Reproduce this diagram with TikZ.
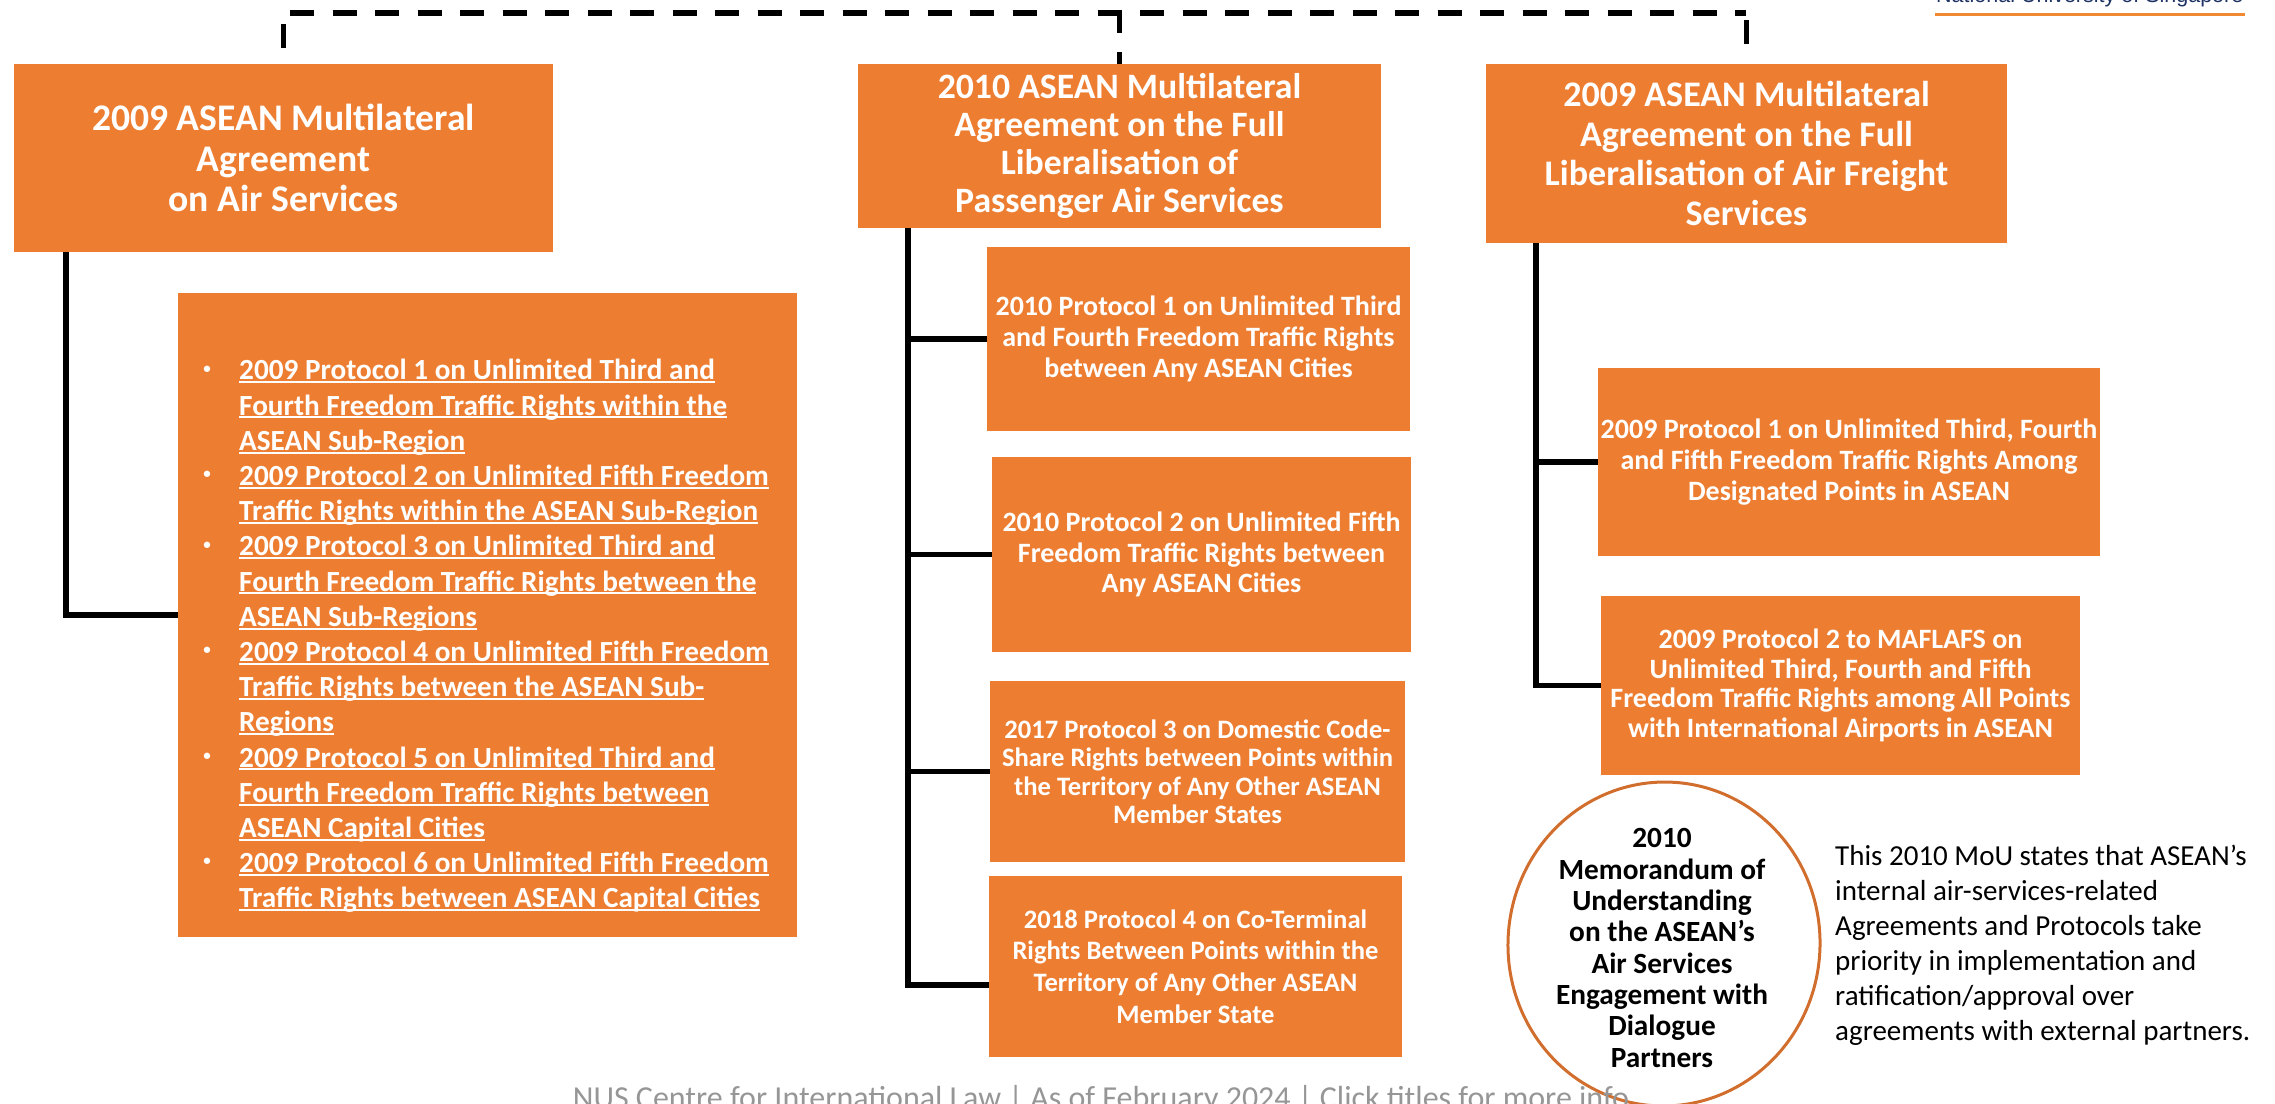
\documentclass[tikz,border=0pt]{standalone}
\usepackage{fontspec}
\setmainfont{Carlito}
\newfontfamily\logofont{Liberation Sans}
\usetikzlibrary{shapes.geometric}
\definecolor{org}{HTML}{ED7D31}
\definecolor{orgline}{RGB}{210,110,45}
\definecolor{orgbar}{RGB}{240,138,50}
\definecolor{footgray}{RGB}{150,150,150}
\definecolor{navy}{RGB}{30,50,100}
\newsavebox\ulbox
\newcommand\ulx[1]{\sbox\ulbox{#1}\rlap{\rule[-3.4pt]{\wd\ulbox}{2pt}}\usebox\ulbox}
\begin{document}
\begin{tikzpicture}[x=1pt,y=-1pt,
  box/.style={fill=org, draw=none, text=white, align=center, inner sep=0pt},
  fs/.style 2 args={font=\bfseries\fontsize{#1}{#2}\selectfont},
  conn/.style={line width=5.5pt, draw=black},
  bus/.style={line width=5.5pt, draw=black, dash pattern=on 24pt off 18.5pt},
  stub/.style={line width=5.5pt, draw=black},
  listline/.style={anchor=base west, inner sep=0pt, text=white, fs={29.2}{35.2}},
  bulletmark/.style={anchor=base, inner sep=0pt, text=white, fs={15}{18}},
]
\useasboundingbox (0,0) rectangle (2275,1103);

% logo fragment (top right)
\node[anchor=base west, inner sep=0pt, font=\logofont\fontsize{21.5}{25}\selectfont, text=navy] (nus) at (1936,2.5) {National University of Singapore};
\fill[orgbar] (1935,12.7) rectangle (2245,16.2);

% top level boxes
\node[box, fs={37.6}{40.6}, minimum width=539pt, minimum height=188pt] (A) at (283.5,158)
  {2009 ASEAN Multilateral\\Agreement\\on Air Services};
\node[box, fs={35.7}{38.3}, minimum width=523pt, minimum height=164pt] (B) at (1119.5,146)
  {2010 ASEAN Multilateral\\Agreement on the Full\\Liberalisation of\\Passenger Air Services};
\node[box, fs={36}{39.4}, minimum width=521pt, minimum height=179pt] (C) at (1746.5,153.5)
  {2009 ASEAN Multilateral\\Agreement on the Full\\Liberalisation of Air Freight\\Services};

% dashed bus
\coordinate (busL) at (290,13);
\coordinate (busR) at (1746,13);
\draw[bus] (busL) -- (busR);
\draw[stub, dash pattern=on 24pt off 18pt, dash phase=31pt] (A.north |- busL) -- (A.north);
\draw[stub, dash pattern=on 18pt off 19pt, dash phase=35pt] (B.north |- busL) -- (B.north);
\draw[stub, dash pattern=on 24pt off 40pt, dash phase=57pt] (C.north |- busL) -- (C.north);

% left list box
\node[box, minimum width=619pt, minimum height=644pt] (D) at (487.5,615) {};
\foreach \bl/\tx [count=\i] in {
  1/2009 Protocol 1 on Unlimited Third and,
  0/Fourth Freedom Traffic Rights within the,
  0/ASEAN Sub-Region,
  1/2009 Protocol 2 on Unlimited Fifth Freedom,
  0/Traffic Rights within the ASEAN Sub-Region,
  1/2009 Protocol 3 on Unlimited Third and,
  0/Fourth Freedom Traffic Rights between the,
  0/ASEAN Sub-Regions,
  1/2009 Protocol 4 on Unlimited Fifth Freedom,
  0/Traffic Rights between the ASEAN Sub-,
  0/Regions,
  1/2009 Protocol 5 on Unlimited Third and,
  0/Fourth Freedom Traffic Rights between,
  0/ASEAN Capital Cities,
  1/2009 Protocol 6 on Unlimited Fifth Freedom,
  0/Traffic Rights between ASEAN Capital Cities}{
  \node[listline] (L\i) at (239,{379.8+(\i-1)*35.2}) {\ulx{\tx}};
  \ifnum\bl=1\relax
    \node[bulletmark] (Bu\i) at (207,{373+(\i-1)*35.2}) {•};
  \fi
}

% middle column
\node[box, fs={28}{31}, minimum width=423pt, minimum height=184pt] (P1) at (1198.5,339)
  {2010 Protocol 1 on Unlimited Third\\and Fourth Freedom Traffic Rights\\between Any ASEAN Cities};
\node[box, fs={28}{30.5}, minimum width=419pt, minimum height=195pt] (P2) at (1201.5,554.5)
  {2010 Protocol 2 on Unlimited Fifth\\Freedom Traffic Rights between\\Any ASEAN Cities};
\node[box, fs={26.6}{28.5}, minimum width=415pt, minimum height=181pt] (P3) at (1197.5,771.5)
  {2017 Protocol 3 on Domestic Code-\\Share Rights between Points within\\the Territory of Any Other ASEAN\\Member States};
\node[box, fs={26.6}{31.7}, minimum width=413pt, minimum height=181pt] (P4) at (1195.5,966.5)
  {2018 Protocol 4 on Co-Terminal\\Rights Between Points within the\\Territory of Any Other ASEAN\\Member State};

% right column
\node[box, fs={28}{30.7}, minimum width=502pt, minimum height=188pt] (R1) at (1849,462)
  {2009 Protocol 1 on Unlimited Third, Fourth\\and Fifth Freedom Traffic Rights Among\\Designated Points in ASEAN};
\node[box, fs={28}{29.5}, minimum width=479pt, minimum height=179pt] (R2) at (1840.5,685.5)
  {2009 Protocol 2 to MAFLAFS on\\Unlimited Third, Fourth and Fifth\\Freedom Traffic Rights among All Points\\with International Airports in ASEAN};

% connectors
\coordinate (ltop) at ([xshift=52pt]A.south west);
\draw[conn] (ltop) |- (D.west);

\coordinate (mtop) at ([xshift=50pt]B.south west);
\draw[conn] (mtop) |- ([yshift=-18.5pt]P4.west);
\draw[conn] (mtop |- P1.west) -- (P1.west);
\draw[conn] (mtop |- P2.west) -- (P2.west);
\draw[conn] (mtop |- P3.west) -- (P3.west);

\coordinate (rtop) at ([xshift=50pt]C.south west);
\draw[conn] (rtop) |- (R2.west);
\draw[conn] (rtop |- R1.west) -- (R1.west);

% MoU ellipse
\node[ellipse, draw=orgline, line width=3pt, minimum width=312pt, minimum height=324pt, inner sep=0pt, rotate=-4] (M) at (1664,944) {};
\node[fs={29.3}{31.3}, align=center, inner sep=0pt, text=black] (Mt) at (1662,948)
  {2010\\Memorandum of\\Understanding\\on the ASEAN’s\\Air Services\\Engagement with\\Dialogue\\Partners};

% note
\node[anchor=north west, inner sep=0pt, align=left, font=\fontsize{29}{35}\selectfont, text=black] (note) at (1835,840.5)
  {\strut This 2010 MoU states that ASEAN’s\\internal air-services-related\\Agreements and Protocols take\\priority in implementation and\\ratification/approval over\\agreements with external partners.};

% footer
\node[anchor=base, inner sep=0pt, font=\fontsize{32}{38}\selectfont, text=footgray] (foot) at (1101,1108)
  {NUS Centre for International Law | As of February 2024 | Click titles for more info};
\end{tikzpicture}
\end{document}
